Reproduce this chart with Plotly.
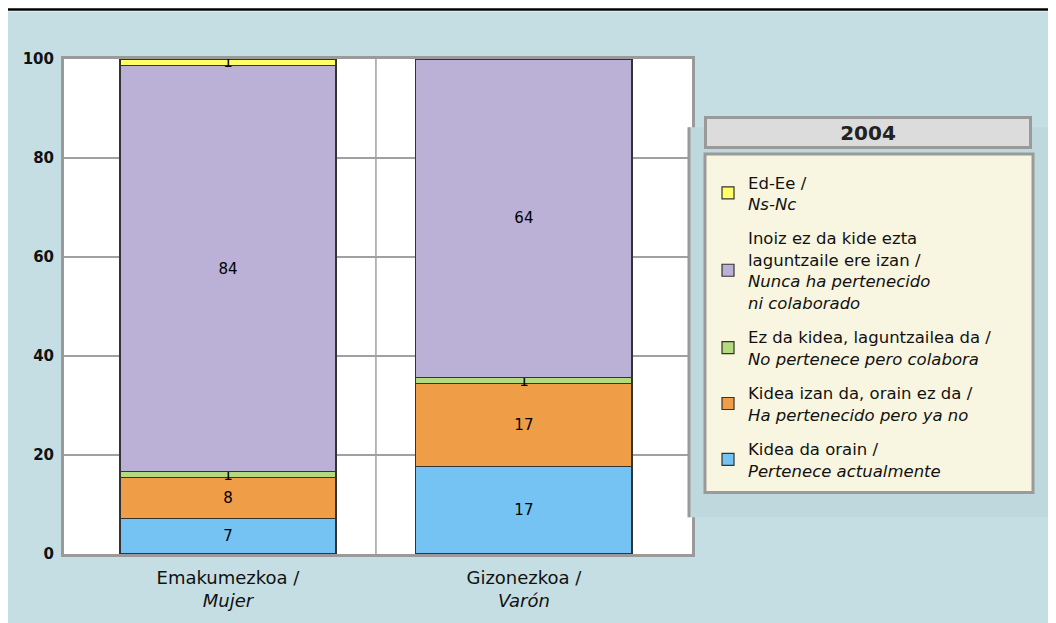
import plotly.graph_objects as go

# categories (x axis)
categories = ["Emakumezkoa /<br><i>Mujer</i>", "Gizonezkoa /<br><i>Varón</i>"]

# series, bottom to top of the stack (bar heights)
kidea_da = [7.2, 17.6]
kidea_izan = [8.2, 16.8]
laguntzailea = [1.2, 1.3]
inoiz = [82.1, 64.3]
ed_ee = [1.3, 0.0]

# printed labels inside the bars
kidea_da_txt = ["7", "17"]
kidea_izan_txt = ["8", "17"]
laguntzailea_txt = ["1", "1"]
inoiz_txt = ["84", "64"]
ed_ee_txt = ["1", ""]

series = [
    ("Kidea da orain /<br><i>Pertenece actualmente</i>", kidea_da, kidea_da_txt, "#74C3F2"),
    ("Kidea izan da, orain ez da /<br><i>Ha pertenecido pero ya no</i>", kidea_izan, kidea_izan_txt, "#EF9D47"),
    ("Ez da kidea, laguntzailea da /<br><i>No pertenece pero colabora</i>", laguntzailea, laguntzailea_txt, "#B3DA7C"),
    ("Inoiz ez da kide ezta<br>laguntzaile ere izan /<br><i>Nunca ha pertenecido</i><br><i>ni colaborado</i>",
     inoiz, inoiz_txt, "#BBB1D6"),
    ("Ed-Ee /<br><i>Ns-Nc</i>", ed_ee, ed_ee_txt, "#FFFF66"),
]

FONT = "DejaVu Sans"
BG = "#C5DEE3"

fig = go.Figure()
for i, (name, vals, txt, col) in enumerate(series):
    fig.add_trace(go.Bar(
        x=categories, y=vals, name=name, text=txt,
        textposition="inside", insidetextanchor="middle", textangle=0,
        textfont=dict(family=FONT, size=15, color="#000"),
        marker=dict(color=col, line=dict(color="#333", width=1.2)),
        width=0.73, legendgroup="g%d" % i, legendrank=100 - i,
    ))

# page frame: white strip and black rule at the top, shadow panel behind the legend
fig.add_shape(type="rect", xref="paper", yref="paper", x0=-0.2, x1=1.7, y0=1.096, y1=1.3,
              fillcolor="white", line_width=0, layer="below")
fig.add_shape(type="line", xref="paper", yref="paper", x0=-0.2, x1=1.7, y0=1.1, y1=1.1,
              line=dict(color="black", width=2.5), layer="below")
fig.add_shape(type="rect", xref="paper", yref="paper", x0=0.9936, x1=1.7, y0=0.074, y1=0.862,
              fillcolor="#BFD8DE", line_width=0, layer="above")
fig.add_shape(type="line", xref="paper", yref="paper", x0=0.9952, x1=0.9952, y0=0.074, y1=0.862,
              line=dict(color="#9A9A9A", width=3), layer="above")
# legend box
fig.add_shape(type="rect", xref="paper", yref="paper", x0=1.0207, x1=1.543, y0=0.124, y1=0.808,
              fillcolor="#F8F6E0", line=dict(color="#9A9A9A", width=3), layer="above")
# vertical separator between the two categories
fig.add_shape(type="line", xref="x", yref="paper", x0=0.5, x1=0.5, y0=0, y1=1,
              line=dict(color="#A0A0A0", width=1.5), layer="below")

# legend title box
fig.add_annotation(text="<b>2004</b>", xref="paper", yref="paper", x=1.2803, y=0.852,
                   xanchor="center", yanchor="middle",
                   showarrow=False, width=322, height=27, bgcolor="#DCDCDC",
                   bordercolor="#9A9A9A", borderwidth=3, borderpad=0,
                   font=dict(family=FONT, size=20, color="#222"))

# the page body adds an 8px margin, so the figure is 8px smaller than the window
fig.update_layout(
    width=1048, height=615,
    margin=dict(l=56, r=364, t=51, b=64),
    paper_bgcolor=BG, plot_bgcolor="white",
    barmode="stack",
    font=dict(family=FONT, size=16, color="black"),
    uniformtext=dict(minsize=15, mode="show"),
    legend=dict(
        x=1.0255, y=0.786, xanchor="left", yanchor="top",
        bgcolor="rgba(0,0,0,0)", borderwidth=0,
        font=dict(family=FONT, size=16.5, color="#111"),
        traceorder="grouped", tracegroupgap=10, valign="middle",
    ),
    xaxis=dict(
        range=[-0.554, 1.568], showgrid=False, showline=True, mirror=True,
        linecolor="#9A9A9A", linewidth=3, ticks="outside", ticklen=5,
        tickcolor="rgba(0,0,0,0)", tickfont=dict(family=FONT, size=18, color="#111"),
    ),
    yaxis=dict(
        range=[0, 100], dtick=20, showgrid=True, gridcolor="#A0A0A0", gridwidth=1.5,
        showline=True, mirror=True, linecolor="#9A9A9A", linewidth=3,
        ticks="outside", ticklen=4, tickcolor="rgba(0,0,0,0)",
        tickfont=dict(family=FONT, size=15, color="#111", weight="bold"), zeroline=False,
    ),
)

fig.write_html("out.html")
